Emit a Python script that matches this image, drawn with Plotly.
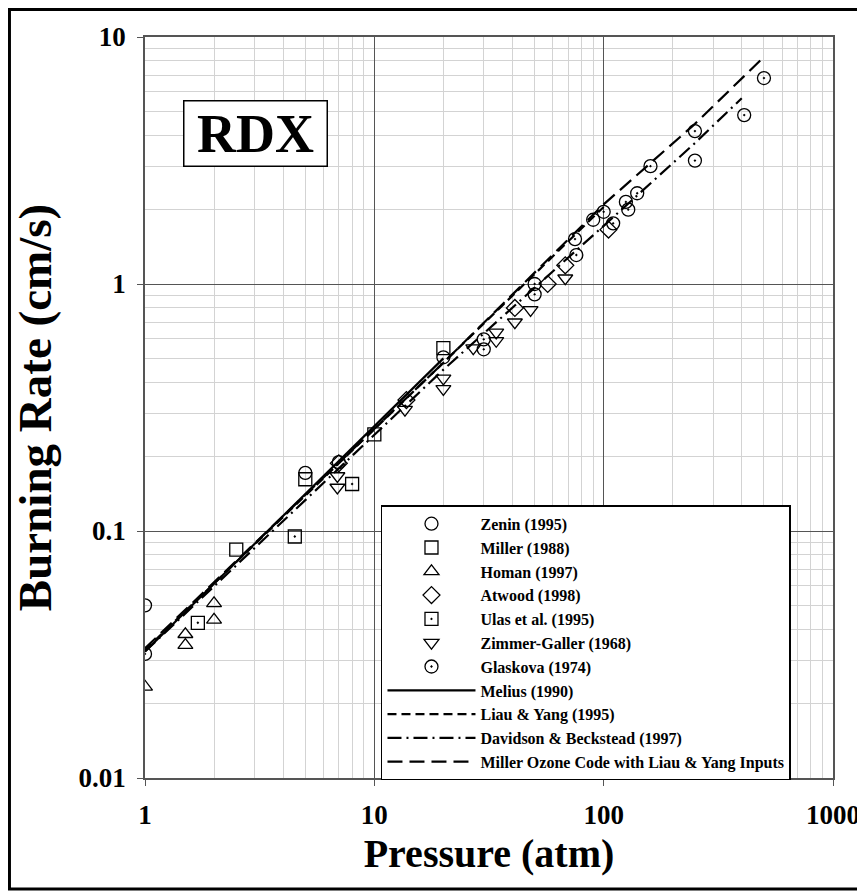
import plotly.graph_objects as go

# ---- data ----
zenin_x = [1, 5, 20, 90]
zenin_y = [0.050, 0.172, 0.505, 1.82]

miller_x = [2.5, 5, 10, 20]
miller_y = [0.084, 0.162, 0.246, 0.55]

homan_x = [1, 1.5, 1.5, 2, 2]
homan_y = [0.0234, 0.0382, 0.0345, 0.0509, 0.0437]

atwood_x = [7, 13.8, 41, 57, 68, 105]
atwood_y = [0.188, 0.339, 0.80, 1.0, 1.19, 1.66]

ulas_x = [1.7, 4.5, 8]
ulas_y = [0.0425, 0.095, 0.155]

zimmer_x = [6.9, 6.9, 13.6, 20, 20, 27, 34, 34, 41, 48, 68]
zimmer_y = [0.167, 0.150, 0.31, 0.415, 0.376, 0.55, 0.637, 0.589, 0.70, 0.785, 1.055]

glaskova_x = [1, 7, 30, 30, 50, 50, 75, 76, 100, 110, 125, 128, 140, 160, 250, 250, 410, 500]
glaskova_y = [0.0318, 0.19, 0.597, 0.544, 1.0, 0.908, 1.52, 1.31, 1.96, 1.76, 2.15, 2.0, 2.33,
              3.0, 4.16, 3.16, 4.83, 6.82]

melius_x = [1, 20]
melius_y = [0.0325, 0.50]

liau_x = [1, 20, 100]
liau_y = [0.033, 0.48, 2.05]

davidson_x = [1, 20, 100, 250, 400]
davidson_y = [0.0325, 0.45, 1.72, 3.72, 5.65]

ozone_x = [1, 20, 100, 250, 505]
ozone_y = [0.0335, 0.48, 2.1, 4.45, 8.38]

x_ticks = [1, 10, 100, 1000]
x_ticktext = ["1", "10", "100", "1000"]
y_ticks = [0.01, 0.1, 1, 10]
y_ticktext = ["0.01", "0.1", "1", "10"]

FONT = "Liberation Serif, Times New Roman, serif"
MSIZE = 13
MLW = 1.3

fig = go.Figure()

def add_markers(x, y, name, symbol):
    fig.add_trace(go.Scatter(
        x=x, y=y, mode="markers", name=name,
        marker=dict(symbol=symbol, size=MSIZE, color="black",
                    line=dict(color="black", width=MLW)),
    ))

def add_line(x, y, name, dash):
    fig.add_trace(go.Scatter(
        x=x, y=y, mode="lines", name=name,
        line=dict(color="black", width=2.2, dash=dash),
    ))

add_markers(zenin_x, zenin_y, "Zenin (1995)", "circle-open")
add_markers(miller_x, miller_y, "Miller (1988)", "square-open")
add_markers(homan_x, homan_y, "Homan (1997)", "triangle-up-open")
add_markers(atwood_x, atwood_y, "Atwood (1998)", "diamond-open")
add_markers(ulas_x, ulas_y, "Ulas et al. (1995)", "square-open-dot")
add_markers(zimmer_x, zimmer_y, "Zimmer-Galler (1968)", "triangle-down-open")
add_markers(glaskova_x, glaskova_y, "Glaskova (1974)", "circle-open-dot")
add_line(melius_x, melius_y, "Melius (1990)", "solid")
add_line(liau_x, liau_y, "Liau &amp; Yang (1995)", "9px,5px")
add_line(davidson_x, davidson_y, "Davidson &amp; Beckstead (1997)", "14px,5px,2px,5px")
add_line(ozone_x, ozone_y, "Miller Ozone Code with Liau &amp; Yang Inputs", "15px,7px")

axis_common = dict(
    type="log",
    automargin=False,
    showgrid=True, gridcolor="#555555", gridwidth=1.3,
    showline=True, mirror=True, linecolor="#555555", linewidth=1.5,
    ticks="outside", ticklen=6, tickcolor="#555555",
    ticklabelstandoff=6,
    minor=dict(dtick="D1", showgrid=True, gridcolor="#d3d3d3", gridwidth=1.2, ticks=""),
    tickfont=dict(family=FONT, size=27, color="black", weight="bold"),
    zeroline=False,
)

fig.update_xaxes(
    range=[0, 3], tickvals=x_ticks, ticktext=x_ticktext,
    title=dict(text="Pressure (atm)", font=dict(family=FONT, size=40, color="black", weight="bold"),
               standoff=10),
    **axis_common,
)
fig.update_yaxes(
    range=[-2, 1], tickvals=y_ticks, ticktext=y_ticktext,
    title=dict(text="Burning Rate (cm/s)", font=dict(family=FONT, size=47, color="black", weight="bold"),
               standoff=12),
    **axis_common,
)

fig.update_layout(
    width=857, height=885,
    margin=dict(l=137, r=32, t=29, b=115, autoexpand=False),
    paper_bgcolor="white", plot_bgcolor="white",
    font=dict(family=FONT, color="black"),
    showlegend=True,
    legend=dict(
        x=0.343, y=0.368, xanchor="left", yanchor="top",
        bgcolor="white", bordercolor="black", borderwidth=1.5,
        font=dict(family=FONT, size=16, color="black", weight="bold"),
        itemwidth=88, tracegroupgap=0,
    ),
    annotations=[dict(
        text="RDX", xref="paper", yref="paper", x=0.161, y=0.87,
        xanchor="center", yanchor="middle",
        showarrow=False, font=dict(family=FONT, size=54, color="black", weight="bold"),
        bgcolor="white", bordercolor="black", borderwidth=1.5,
        width=140, height=62,
    )],
    shapes=[dict(
        type="rect", xref="paper", yref="paper",
        x0=-0.197, x1=1.0407, y0=-0.1498, y1=1.0371,
        line=dict(color="black", width=3), layer="above",
    )],
)

fig.write_html("out.html")
